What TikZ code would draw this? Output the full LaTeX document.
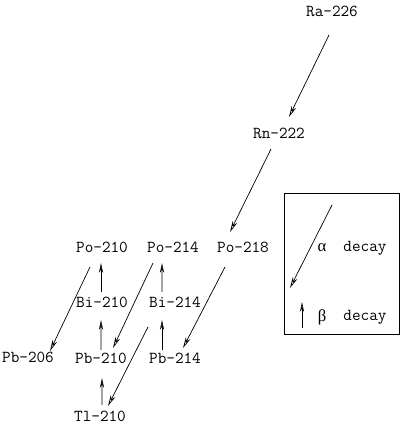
\documentclass[tikz,border=0pt]{standalone}
\usepackage{fontspec}
\newfontfamily\greekfont{Liberation Serif}
\usetikzlibrary{arrows.meta}

\begin{document}
\begin{tikzpicture}[->,>={Stealth[open,length=8pt,width=3.5pt]},
        line width=0.5pt,inner sep=1pt,
        every node/.style={font=\ttfamily\fontsize{11.9}{13}\selectfont},
        beta/.style={-{Stealth[open,length=7pt,width=3pt]}}]
        \useasboundingbox (0,0) rectangle (10.1,10.6);
        \node at (8.3,10.325)  (ra_226) {Ra-226};
        \node at (6.975,7.275) (rn_222) {Rn-222};
        \node at (2.55,4.425)  (po_210) {Po-210};
        \node at (4.325,4.425) (po_214) {Po-214};
        \node at (6.075,4.425) (po_218) {Po-218};
        \node at (2.55,3.05)   (bi_210) {Bi-210};
        \node at (4.375,3.05)  (bi_214) {Bi-214};
        \node at (0.7,1.675)   (pb_206) {Pb-206};
        \node at (2.525,1.65)  (pb_210) {Pb-210};
        \node at (4.375,1.65)  (pb_214) {Pb-214};
        \node at (2.5,0.2)     (tl_210) {Tl-210};

        % alpha decays
        \draw ([shift={(-0.075,-0.6)}]ra_226.center)  -- ([shift={(0.25,0.4)}]rn_222.center);
        \draw ([shift={(-0.2,-0.4)}]rn_222.center)    -- ([shift={(-0.325,0.375)}]po_218.center);
        \draw ([shift={(-0.45,-0.5)}]po_218.center)   -- ([shift={(0.2,0.25)}]pb_214.center);
        \draw ([shift={(-0.5,-0.4)}]po_214.center)    -- ([shift={(0.3,0.25)}]pb_210.center);
        \draw ([shift={(-0.3,-0.5)}]po_210.center)    -- ([shift={(0.55,0.15)}]pb_206.center);
        \draw ([shift={(-0.675,-0.625)}]bi_214.center) -- ([shift={(0.2,0.25)}]tl_210.center);

        % beta decays
        \draw[beta] ([shift={(-0.025,0.25)}]bi_210.center)  -- ([shift={(-0.025,-0.4)}]po_210.center);
        \draw[beta] ([shift={(0,0.2)}]pb_210.center)        -- ([shift={(-0.025,-0.45)}]bi_210.center);
        \draw[beta] ([shift={(0.05,0.275)}]tl_210.center)   -- ([shift={(0.025,-0.5)}]pb_210.center);
        \draw[beta] ([shift={(-0.325,0.25)}]bi_214.center)  -- ([shift={(-0.275,-0.4)}]po_214.center);
        \draw[beta] ([shift={(-0.325,0.2)}]pb_214.center)   -- ([shift={(-0.325,-0.45)}]bi_214.center);

        % legend
        \draw[-] (7.1,2.25) rectangle (9.975,5.775);
        \coordinate (a_top) at (8.3,5.475);
        \coordinate (a_end) at (7.25,3.4);
        \coordinate (b_bot) at (7.55,2.4);
        \coordinate (b_end) at (7.55,3.05);
        \draw (a_top) -- (a_end);
        \draw[beta] (b_bot) -- (b_end);
        \node at (8.05,4.4)    (alpha) {\greekfont α};
        \node at (9.125,4.4)   (a_txt) {decay};
        \node at (8.05,2.675)  (beta)  {\greekfont β};
        \node at (9.125,2.675) (b_txt) {decay};
\end{tikzpicture}
\end{document}
